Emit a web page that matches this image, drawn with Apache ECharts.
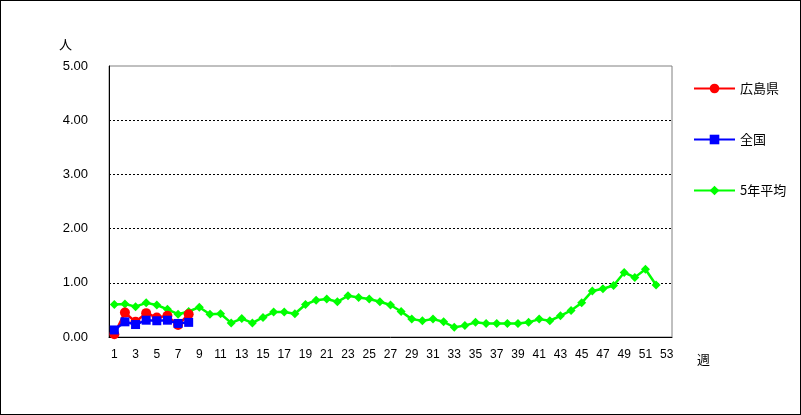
<!DOCTYPE html>
<html><head><meta charset="utf-8">
<script src="https://cdn.jsdelivr.net/npm/echarts@6/dist/echarts.min.js"></script>
<style>html,body{margin:0;padding:0;background:#fff}#c{width:801px;height:415px;box-sizing:border-box;border:1px solid #000}</style>
</head><body><div id="c"></div>
<script>
const weeks = Array.from({length:53},(_,i)=>String(i+1));
const hiroshima = [0.05,0.45,0.28,0.44,0.36,0.39,0.22,0.42];
const zenkoku = [0.13,0.28,0.23,0.31,0.30,0.31,0.25,0.27];
const avg5 = [0.60,0.61,0.56,0.63,0.59,0.51,0.42,0.47,0.55,0.42,
  0.43,0.26,0.34,0.26,0.36,0.46,0.46,0.43,0.60,0.68,
  0.70,0.65,0.76,0.73,0.70,0.65,0.59,0.47,0.33,0.30,
  0.33,0.28,0.18,0.21,0.27,0.25,0.25,0.25,0.25,0.27,
  0.33,0.30,0.39,0.49,0.63,0.85,0.89,0.95,1.19,1.10,
  1.25,0.96];
const seriesNames = ['広島県','全国','5年平均'];
const font = 'Liberation Sans, Arial, sans-serif';
const chart = echarts.init(document.getElementById('c'));
chart.setOption({
  animation:false,
  grid:{left:108,right:128,top:65,bottom:77,show:true,borderColor:'#808080',borderWidth:1,containLabel:false},
  legend:{orient:'vertical',left:687,top:76,itemWidth:41,itemHeight:12,itemGap:38,
    textStyle:{fontSize:13,color:'#000',fontFamily:'Noto Sans CJK JP'},
    data:seriesNames},
  xAxis:{type:'category',data:weeks,boundaryGap:true,
    axisLine:{lineStyle:{color:'#000',width:1}},
    axisTick:{inside:true,length:4,interval:0,lineStyle:{color:'#000'}},
    axisLabel:{interval:1,color:'#000',fontSize:12,fontFamily:font,margin:12},
    splitLine:{show:false}},
  yAxis:{type:'value',min:0,max:5,interval:1,
    axisLine:{show:true,lineStyle:{color:'#000',width:1}},
    axisTick:{show:false},
    axisLabel:{color:'#000',fontSize:13,fontFamily:font,margin:21,formatter:v=>v.toFixed(2)},
    splitLine:{show:true,showMinLine:false,showMaxLine:false,lineStyle:{color:'#000',type:[2,2],width:1}}},
  graphic:[
    {type:'text',left:58,top:37,style:{text:'人',fontSize:13,fill:'#000',fontFamily:'Noto Sans CJK JP'}},
    {type:'text',left:696,top:352,style:{text:'週',fontSize:13,fill:'#000',fontFamily:'Noto Sans CJK JP'}}
  ],
  series:[
    {name:seriesNames[2],type:'line',data:avg5,symbol:'diamond',symbolSize:9,z:2,showAllSymbol:true,
      itemStyle:{color:'#00ff00'},lineStyle:{color:'#00ff00',width:2.5}},
    {name:seriesNames[0],type:'line',data:hiroshima,symbol:'circle',symbolSize:10,z:3,showAllSymbol:true,
      itemStyle:{color:'#ff0000'},lineStyle:{color:'#ff0000',width:2.5}},
    {name:seriesNames[1],type:'line',data:zenkoku,symbol:'rect',symbolSize:9,z:4,showAllSymbol:true,
      itemStyle:{color:'#0000ff'},lineStyle:{color:'#0000ff',width:2.5}}
  ]
});
</script></body></html>
